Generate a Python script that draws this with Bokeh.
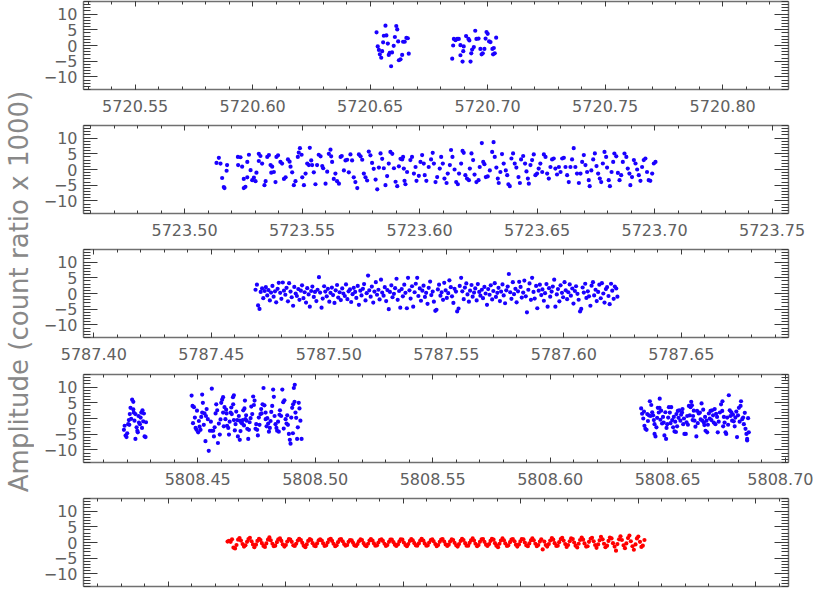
from bokeh.plotting import figure
from bokeh.layouts import column, row
from bokeh.models import (Range1d, LinearAxis, SingleIntervalTicker, PrintfTickFormatter,
                          CustomJSTickFormatter, ColumnDataSource)
from bokeh.embed import file_html
from bokeh.resources import INLINE

# ---------------- data (times = T0 + DT * 1e-4 days, amplitudes in count ratio x 1000) -------------
P1_T0 = 5720.0
P1_DT = [6527, 6565, 6611, 6615, 6558, 6569, 6605, 6654, 6660, 6619, 6640, 6647, 6555, 6575,
         6532, 6600, 6537, 6551, 6541, 6583, 6593, 6579, 6547, 6636, 6629, 6622, 6664, 6589,
         6856, 6863, 6870, 6877, 6853, 6849, 6884, 6898, 6884, 6896, 6893, 6908, 6918, 6922,
         6927, 6930, 6934, 6941, 6947, 6952, 6961, 6969, 6974, 6979, 6986, 6995, 7000, 6991,
         7006, 7012, 7020, 7026, 7036, 7023, 7030]
P1_AMP = [4.2, 6.3, 6.2, 5.1, 3.1, 3.2, 2.7, 2.4, 2.3, 1.3, 1.2, 1.2, 1.0, 0.6,
          -0.3, -0.1, -1.4, -1.8, -2.8, -2.3, -2.2, -3.0, -3.9, -3.0, -4.4, -4.7, -2.6, -6.6,
          2.1, 1.7, 2.1, 2.1, 0.0, -4.2, 0.1, -0.3, -3.1, -1.8, -5.1, 3.0, 2.1, 1.6,
          -5.1, -2.5, -1.3, -0.5, 4.7, 2.1, 2.2, -1.1, -2.8, -2.5, -1.1, 4.3, 3.7, 2.2,
          1.3, 1.1, -1.1, -0.8, 2.5, -2.8, -2.5]

P2_T0 = 5723.5
P2_DT = [136, 146, 153, 160, 167, 170, 179, 181, 227, 238, 228, 245, 252, 259, 252, 267, 274, 267, 281, 288,
         295, 302, 306, 316, 323, 316, 330, 340, 345, 352, 359, 366, 373, 369, 380, 391, 398, 387, 408, 415,
         423, 430, 440, 447, 451, 458, 465, 472, 482, 486, 491, 498, 501, 508, 515, 522, 529, 533, 539, 543,
         550, 557, 564, 571, 579, 586, 590, 600, 607, 614, 621, 624, 628, 635, 642, 649, 657, 664, 669, 678,
         685, 692, 699, 706, 713, 720, 727, 735, 742, 749, 756, 763, 770, 777, 784, 791, 798, 805, 813, 820,
         827, 834, 841, 848, 855, 862, 869, 876, 884, 891, 898, 905, 912, 919,
         926, 930, 936, 940, 933, 947, 961, 968, 976, 983, 987, 997, 1004, 1011, 1018, 1022, 1029, 1039, 1049, 1056,
         1061, 1068, 1075, 1086, 1092, 1099, 1106, 1115, 1120, 1129, 1134, 1140, 1149, 1156, 1163, 1168, 1177, 1183, 1188, 1195,
         1202, 1210, 1214, 1221, 1228, 1234, 1242, 1251, 1256, 1265, 1271, 1276, 1282, 1290, 1299, 1309, 1315, 1320, 1327, 1333,
         1337, 1344, 1351, 1358, 1367, 1373, 1378, 1384, 1391, 1398, 1405, 1412, 1421, 1427, 1432, 1441, 1449, 1455, 1461, 1465,
         1472, 1479, 1486, 1493, 1500, 1507, 1514, 1522, 1529, 1536, 1543, 1550, 1557, 1564, 1571, 1578, 1585, 1593, 1600, 1607,
         1614, 1621, 1628, 1635, 1642, 1649, 1656, 1663, 1670, 1678, 1685, 1692, 1699, 1706, 1713, 1720, 1724, 1731, 1739, 1746,
         1753, 1760, 1767, 1773, 1780, 1787, 1794, 1798, 1805, 1810, 1817, 1824, 1829, 1837, 1844, 1851, 1858, 1865, 1872, 1880,
         1886, 1893, 1897, 1904, 1912, 1919, 1926, 1933, 1940, 1947, 1954, 1961, 1968, 1975, 1982, 1990, 1997, 2004]
P2_AMP = [2.1, 3.7, 1.9, -2.7, -5.6, -5.9, -0.4, 1.4, 4.0, 3.9, 1.4, 0.9, -5.9, -5.5, -3.0, -2.5, 4.7, 2.4, -0.2, -3.4,
          -2.6, -3.7, -1.0, 5.0, 4.3, 2.7, 1.9, -5.0, -3.7, 4.0, 4.6, 1.4, 0.9, -1.0, -0.8, 4.0, 4.5, -4.0, 2.4, 1.9,
          -3.0, -2.5, 3.2, 2.5, 0.9, -0.9, -5.0, -3.7, 4.0, 5.4, 6.8, 4.7, -2.5, -5.0, -1.3, 1.9, 1.4, 6.9, 2.9, 1.4,
          -0.9, -4.7, 1.4, 4.7, 4.2, 1.1, 0.4, -4.5, -0.7, 5.0, 6.3, 4.2, 2.4, -3.0, -1.3, -3.7, -4.5, 4.0, 4.3, -0.3,
          2.9, 3.1, -0.9, 4.8, 2.9, -2.5, -4.0, -5.9, 4.8, 4.2, 3.1, -1.3, -2.5, -3.5, 5.7, 4.5, 2.1, 0.2, -3.2, -6.3,
          0.6, 5.1, 3.4, 0.4, -5.0, -2.1, 1.9, 5.6, 5.0, 0.4, -3.9, -5.3, 1.0, 3.4,
          3.2, 4.0, -3.6, -4.7, 0.3, -0.8, 3.0, 4.0, -1.3, 0.8, -3.6, -2.0, 2.4, 4.6, 1.9, -1.8, -3.6, 0.8, 3.2, 5.3,
          1.9, -4.0, -2.4, 0.3, 4.0, 1.9, -2.9, -4.3, -1.3, 1.4, 6.2, 4.0, 0.0, -4.0, -4.7, -1.3, 1.9, 5.9, 5.3, -1.8,
          -2.9, -3.4, 0.3, 5.1, 3.0, -1.6, -4.0, -3.4, 0.8, 8.4, 2.4, 1.7, -2.4, -2.2, -0.3, 5.6, 8.7, 4.0, 0.6, -2.9,
          -4.3, -0.8, 4.9, 1.9, -0.3, -1.8, -4.7, -5.3, 3.5, 5.1, 1.9, 0.6, -2.4, -4.3, 3.2, 4.3, 1.9, -0.6, -2.9, -4.5,
          1.4, 3.0, 4.8, -1.8, -1.3, 0.3, 1.9, -0.8, 4.8, 4.0, -1.3, -2.9, 0.8, 3.2, 3.5, 0.3, -1.6, 0.8, -0.8, 3.5,
          3.7, 0.8, -1.8, -4.0, 0.8, 3.2, 6.8, 0.8, -1.3, -4.3, -1.3, 2.4, 4.6, 1.4, -0.8, -3.4, -5.3, -0.3, 3.2, 5.1,
          1.1, -1.3, -2.9, -4.0, 1.9, 5.6, 4.0, 0.6, -3.4, -5.3, -0.8, 2.4, 5.1, 4.2, -1.1, -3.4, -1.8, 2.4, 5.1, 4.0,
          0.3, -1.3, -5.0, -2.4, 3.0, 1.9, 0.0, -1.8, -3.6, 0.8, 3.0, 3.5, -0.8, -3.4, -3.6, -1.3, 1.9, 2.4]

P3_T0 = 5787.4
P3_DT = [688, 694, 699, 705, 710, 716, 721, 727, 732, 738, 743, 749, 754, 760, 765, 771, 776, 782, 787, 793,
         798, 804, 809, 815, 820, 826, 831, 837, 842, 848, 853, 859, 864, 870, 875, 881, 886, 892, 897, 903,
         908, 914, 919, 925, 930, 936, 941, 947, 952, 958, 963, 969, 974, 980, 985, 991, 996, 1002, 1007, 1013,
         1018, 1024, 1029, 1035, 1040, 1046, 1051, 1057, 1062, 1068, 1073, 1079, 1084, 1090, 1095, 1101, 1106, 1112, 1117, 1123,
         1128, 1134, 1139, 1145, 1150, 1156, 1161, 1167, 1172, 1178, 1183, 1189, 1194, 1200, 1205, 1211, 1216, 1222, 1227, 1233,
         1238, 1244, 1249, 1255, 1260, 1266, 1271, 1277, 1282, 1288, 1293, 1299, 1304, 1310, 1315, 1321, 1326, 1332, 1337, 1343,
         1348, 1354, 1359, 1365, 1370, 1376, 1381, 1387, 1392, 1398, 1403, 1409, 1414, 1420, 1425, 1431, 1436, 1442, 1447, 1453,
         1458, 1464, 1469, 1475, 1480, 1486, 1491, 1497, 1502, 1508, 1513, 1519, 1524, 1530, 1535, 1541, 1546, 1552, 1557, 1563,
         1568, 1574, 1579, 1585, 1590, 1596, 1601, 1607, 1612, 1618, 1623, 1629, 1634, 1640, 1645, 1651, 1656, 1662, 1667, 1673,
         1678, 1684, 1689, 1695, 1700, 1706, 1711, 1717, 1722, 1728, 1733, 1739, 1744, 1750, 1755, 1761, 1766, 1772, 1777, 1783,
         1788, 1794, 1799, 1805, 1810, 1816, 1821, 1827, 1832, 1838, 1843, 1849, 1854, 1860, 1865, 1871, 1876, 1882, 1887, 1893,
         1898, 1904, 1909, 1915, 1920, 1926, 1931, 1937, 1942, 1948, 1953, 1959, 1964, 1970, 1975, 1981, 1986, 1992, 1997, 2003,
         2008, 2014, 2019, 2025, 2030, 2036, 2041, 2047, 2052, 2058, 2063, 2069, 2074, 2080, 2085, 2091, 2096, 2102, 2107, 2113,
         2118, 2124, 2129, 2135, 2140, 2146, 2151, 2157, 2162, 2168, 2173, 2179, 2184, 2190, 2195, 2201, 2206, 2212, 2217, 2223,
         2228]
P3_AMP = [1.2, 2.8, -3.8, -4.9, 0.5, 1.6, -1.5, 0.8, 2.0, -0.6, 1.1, -2.2, 0.3, 2.4, -1.0, 0.7, -2.8, 1.5, 3.4, 0.2,
          -1.7, 3.5, 0.9, -0.4, 1.8, -2.5, 3.3, 0.6, -1.2, -3.9, 2.1, 0.0, -0.8, 1.4, -2.0, 0.9, 2.6, -1.5, 0.4, -2.9,
          1.7, -0.3, -4.2, 0.8, 2.2, -1.1, 0.5, -2.4, 1.2, 5.2, 0.3, -4.5, -1.6, 2.3, 0.6, -0.9, 1.5, -2.6, 0.2, 1.9,
          -0.5, -3.0, 1.0, 2.7, -1.3, 0.4, -2.1, 1.6, 0.0, -0.8, 2.9, -1.8, 0.7, 1.3, -2.7, -0.2, 1.8, 0.5, -1.4, 2.4,
          -3.6, 0.9, -0.6, 1.5, 3.0, -2.2, 0.1, 5.7, 1.0, -1.0, 2.2, -2.9, 0.6, 3.6, -0.4, 1.2, -1.9, 4.4, 0.3, -0.7,
          2.0, -2.4, 1.1, -5.0, 0.5, 2.6, -1.2, -0.1, 1.7, 4.7, -2.0, 0.8, -4.5, 1.4, -0.9, 2.8, 0.2, -4.7, 5.0, 1.0,
          -1.6, 2.3, -4.2, 0.4, 3.1, 5.0, -0.8, 1.6, -2.3, 0.9, 2.5, -1.1, 0.2, -3.3, 1.8, 3.8, -0.5, 0.6, -2.6, -5.5,
          -5.2, 1.3, 2.8, -0.7, 0.4, -2.0, 3.4, 1.0, -1.4, 0.1, 4.2, 2.0, -0.9, -3.0, 1.5, 0.6, -5.7, -4.8, 2.4, 5.0,
          0.7, -1.8, 1.9, 3.2, -0.3, -2.6, 0.9, 2.7, -1.0, 0.3, 1.6, -2.2, 3.0, 0.5, -0.7, 1.2, -1.5, 2.1, 0.0, -3.6,
          1.4, -0.4, 2.6, -1.9, 0.8, 3.3, -1.1, 0.2, 1.8, -2.4, 0.6, 2.9, -0.6, -3.1, 1.0, 2.2, 6.2, 0.4, -1.7, 3.6,
          -0.2, 1.5, -2.8, 0.7, 3.7, 2.1, -1.3, 0.3, 4.1, -0.9, -6.0, 1.2, 3.2, -2.0, 5.0, 0.5, -1.6, 2.4, -4.7, 0.9,
          2.8, -0.5, 1.3, -2.3, 0.1, 3.0, -4.2, 1.7, -1.0, 0.6, 2.2, 4.4, -4.2, -0.3, 1.4, -2.5, 2.6, 0.2, -1.2, 3.6,
          1.0, -1.8, 0.4, 2.9, -0.7, 1.6, -3.2, 0.8, 2.3, -0.1, -2.0, -5.7, -4.9, 1.9, 0.3, 3.1, -1.4, 0.7, -0.9, -3.9,
          2.5, 3.6, -0.6, 1.2, -2.4, 0.5, 2.8, -1.5, 3.3, 0.0, -2.9, 1.4, 2.0, -0.8, -3.4, 3.1, 0.9, -1.7, 2.2, 1.6,
          -1.0]

P4_T0 = 5808.4
P4A_DT = [186, 189, 193, 197, 200, 204, 207, 209, 211, 214, 217, 221, 226, 226, 228, 231, 235, 235, 240, 243,
          245, 248, 250, 254, 257, 260, 263, 265, 268, 271, 274, 278, 280]
P4A_AMP = [-3.6, -2.3, -5.4, -5.9, -4.7, -1.8, -0.5, -2.0, 1.4, 3.4, -0.1, 6.0, 5.3, 2.9, 1.9, -0.7, 1.4, -6.5, -2.8, -3.9,
           -4.4, 0.8, -1.3, -1.8, 0.3, 1.9, -3.0, 2.6, -0.9, 1.6, -5.7, -5.9, -1.2]
P4B_DT = [474, 478, 484, 488, 491, 495, 502, 508, 512, 519, 522, 519, 529, 535, 533, 543, 547, 552, 560, 560,
          566, 569, 576, 583, 586, 590, 594, 600, 604, 608, 608, 614, 618, 623, 625, 630, 633, 640, 645, 650,
          654, 651, 654, 661, 668, 671, 679, 679, 685, 689, 694, 699, 701, 703, 708, 711, 715, 718, 725, 732,
          736, 739, 742, 746, 753, 756, 760, 767, 772, 776, 780, 784, 789, 789, 796, 800, 803, 807, 813, 817,
          821, 824, 827, 831, 835, 838, 845, 850, 855, 860, 864, 869, 874, 878, 884, 888, 892, 895, 898, 902,
          906, 909, 913, 912, 916, 905, 923, 930, 937, 942,
          480, 497, 505, 515, 526, 538, 556, 572, 579, 597, 611, 621, 636, 643, 658, 664, 675, 682, 692, 697,
          706, 721, 728, 749, 763, 770, 793, 810, 842, 848, 866, 881, 919, 926, 933]
P4B_AMP = [7.3, 4.0, 3.6, 0.3, -3.0, -3.6, -4.4, -2.6, -3.6, 7.6, 5.0, 1.9, 1.6, 0.8, -7.2, -0.2, -10.3, -3.9, -3.9, 9.5,
           -3.9, -5.7, 1.6, 2.6, -7.8, -1.6, -5.1, 5.0, 6.0, 6.8, 1.9, 3.6, -0.2, 1.6, -2.3, -3.0, -5.1, 1.9, 1.4, 6.8,
           7.4, 4.5, -0.5, -1.8, -0.5, -5.7, -6.8, -0.7, -1.3, -1.6, 2.6, 3.2, 5.7, -0.2, -0.7, -3.3, -6.5, -3.6, 0.1, 1.4,
           7.0, 4.3, 5.7, -3.3, -3.6, -5.4, 0.3, 1.4, 1.6, 4.5, 9.7, 4.2, 1.9, -0.2, 0.1, -1.6, -4.2, -3.0, 2.1, 4.0,
           9.2, 6.9, 0.8, -1.8, -3.0, -3.9, -4.2, 2.6, 0.8, 9.2, 5.2, 5.8, -0.2, -1.6, -2.0, -4.9, -6.8, -8.0, 0.3, 3.4,
           4.5, 9.7, 10.7, 5.3, 1.9, -4.7, -6.5, 5.0, -0.7, -6.5,
           -1.5, 2.5, -0.8, 0.5, -2.0, 3.0, -1.0, -2.8, 4.5, -0.3, -2.5, 2.8, -1.0, 3.5, -3.8, 2.2, 0.8, -4.0, -0.5, -2.2,
           1.0, -1.2, 3.8, -1.8, -2.0, 3.0, -2.5, -0.8, -1.0, 1.2, -3.2, 1.0, 0.2, -2.8, 3.2]
P4C_DT = [2387, 2396, 2401, 2405, 2410, 2413, 2420, 2424, 2430, 2427, 2438, 2444, 2444, 2448, 2452, 2458, 2465, 2466, 2462, 2476,
          2483, 2486, 2493, 2498, 2502, 2505, 2515, 2509, 2519, 2523, 2529, 2535, 2537, 2543, 2549, 2554, 2561, 2566, 2571, 2577,
          2583, 2586, 2590, 2597, 2603, 2600, 2608, 2614, 2618, 2622, 2625, 2632, 2637, 2644, 2647, 2654, 2656, 2661, 2668, 2665,
          2675, 2682, 2689, 2696, 2703, 2710, 2713, 2722, 2727, 2733, 2732, 2739, 2742, 2746, 2749, 2753, 2760, 2764, 2767, 2774,
          2781, 2788, 2795, 2803, 2810, 2812, 2817, 2824, 2831, 2835, 2838, 2838, 2842, 2845, 2821,
          2391, 2399, 2416, 2434, 2441, 2455, 2469, 2472, 2480, 2490, 2495, 2512, 2526, 2532, 2540, 2546, 2557, 2563, 2569, 2580,
          2594, 2606, 2611, 2628, 2640, 2651, 2659, 2671, 2679, 2686, 2693, 2700, 2706, 2717, 2736, 2757, 2771, 2778, 2785, 2792,
          2799, 2806, 2828]
P4C_AMP = [3.2, 0.0, -2.3, -3.3, -3.6, 1.4, 1.0, 5.5, 4.3, 0.8, 1.0, -1.8, -4.9, -5.7, -2.8, 3.4, 3.4, 6.3, 1.9, -1.6,
           -1.3, -5.4, -6.5, -1.8, 0.3, 3.6, 3.6, 1.9, -0.5, -2.8, -4.1, -4.3, 1.4, 2.4, 2.6, -0.7, 1.9, -1.8, -4.9, -4.9,
           0.8, -2.0, 4.0, 3.6, 4.2, 5.3, 0.8, -0.7, -2.6, -5.7, 2.4, 1.6, 1.9, 4.8, -0.7, -1.3, -2.1, -3.9, -4.4, -0.7,
           1.6, 2.4, 2.6, -1.3, -1.8, 0.5, -4.4, 1.9, 4.5, 5.5, 2.4, 0.5, -1.3, -4.4, -4.9, 0.3, 7.4, 2.6, 0.8, -0.7,
           -0.9, 0.3, -5.9, 3.4, 4.0, 5.5, -0.2, -1.8, -3.3, -4.9, -6.5, -7.0, 0.1, -4.4, 0.3,
           1.5, 2.2, -0.8, 2.0, -0.5, 0.2, -0.4, 2.5, 0.5, 2.0, -3.0, -1.5, 0.5, -1.0, -2.5, 0.2, 1.2, 3.0, 0.0, -1.2,
           1.0, -0.5, 2.5, -1.5, -0.3, 2.8, 0.5, -2.0, 0.0, -0.5, 1.0, 3.0, 1.5, -1.0, -2.5, -2.0, 2.0, 1.2, -2.5, 2.2,
           1.0, -1.0, 1.8]

P5_T0 = 0.0
P5_DT = [752, 758, 765, 771, 777, 784, 790, 797, 803, 809, 816, 822, 828, 835,
         841, 847, 854, 860, 866, 873, 879, 886, 892, 898, 905, 911, 917, 924,
         930, 936, 943, 949, 955, 962, 968, 975, 981, 987, 994, 1000, 1006, 1013,
         1019, 1025, 1032, 1038, 1044, 1051, 1057, 1064, 1070, 1076, 1083, 1089, 1095, 1102,
         1108, 1114, 1121, 1127, 1133, 1140, 1146, 1153, 1159, 1165, 1172, 1178, 1184, 1191,
         1197, 1203, 1210, 1216, 1222, 1229, 1235, 1242, 1248, 1254, 1261, 1267, 1273, 1280,
         1286, 1292, 1299, 1305, 1311, 1318, 1324, 1331, 1337, 1343, 1350, 1356, 1362, 1369,
         1375, 1381, 1388, 1394, 1400, 1407, 1413, 1420, 1426, 1432, 1439, 1445, 1451, 1458,
         1464, 1470, 1477, 1483, 1489, 1496, 1502, 1509, 1515, 1521, 1528, 1534, 1540, 1547,
         1553, 1559, 1566, 1572, 1578, 1585, 1591, 1598, 1604, 1610, 1617, 1623, 1629, 1636,
         1642, 1648, 1655, 1661, 1667, 1674, 1680, 1687, 1693, 1699, 1706, 1712, 1718, 1725,
         1731, 1737, 1744, 1750, 1756, 1763, 1769, 1776, 1782, 1788, 1795, 1801, 1807, 1814,
         1820, 1826, 1833, 1839, 1845, 1852, 1858, 1865, 1871, 1877, 1884, 1890, 1896, 1903,
         1909, 1915, 1922, 1928, 1934, 1941, 1947, 1954, 1960, 1966, 1973, 1979, 1985, 1992,
         1998, 2004, 2011, 2017, 2023, 2030, 2036, 2043, 2049, 2055, 2062, 2068, 2074, 2081,
         2087, 2093, 2100, 2106, 2112, 2119, 2125, 2132, 2138, 2144, 2151, 2157, 2163, 2170,
         2176, 2182, 2189, 2195, 2201, 2208, 2214, 2221, 2227, 2233, 2240, 2246, 2252, 2259,
         2265, 2271, 2278, 2284, 2290, 2297, 2303, 2310, 2316, 2322, 2329, 2335, 2341, 2348,
         2354, 2360, 2367, 2373, 2379, 2386, 2392, 2399, 2405, 2411, 2418, 2424, 2430, 2437,
         2443, 2449, 2456, 2462, 2468, 2475, 2481, 2488, 2494, 2500, 2507, 2513, 2519, 2526]
P5_AMP = [0.3, 0.5, 0.2, 1.0, -1.6, -1.9, -0.8, 0.9, 1.4, 0.6, -0.5, -1.3, -0.9, 0.2,
          1.1, 1.5, 0.4, -0.6, -1.5, -0.7, 0.5, 1.2, 0.8, -0.2, -1.1, -1.4, -0.3, 0.9,
          1.6, 0.7, -0.4, -1.2, -1.0, 0.1, 1.0, 1.3, 0.5, -0.6, -1.3, -0.8, 0.3, 1.1,
          0.9, 0.2, -0.9, -1.1, -0.4, 0.6, 1.2, 0.8, -0.1, -1.0, -1.5, -0.6, 0.5, 1.1,
          0.8, -0.2, -1.0, -1.2, -0.3, 0.7, 1.0, 0.6, -0.3, -1.1, -0.9, 0.0, 0.9, 1.2,
          0.5, -0.4, -1.2, -0.9, 0.1, 0.9, 1.1, 0.4, -0.5, -1.0, -0.8, 0.2, 0.8, 0.7,
          -0.1, -0.9, -1.1, -0.5, 0.4, 1.0, 0.8, -0.2, -0.9, -1.2, -0.4, 0.6, 1.1, 0.6,
          -0.3, -1.0, -0.9, 0.0, 0.8, 1.0, 0.5, -0.4, -1.1, -0.8, 0.2, 0.9, 0.9, 0.1,
          -0.7, -1.1, -0.6, 0.3, 1.0, 0.9, 0.0, -0.8, -1.2, -0.5, 0.5, 1.1, 0.7, -0.2,
          -0.9, -1.0, -0.3, 0.6, 1.2, 0.6, -0.3, -1.0, -0.9, 0.0, 0.8, 1.0, 0.4, -0.5,
          -1.2, -0.8, 0.2, 0.9, 1.1, 0.3, -0.6, -1.1, -0.7, 0.3, 1.0, 0.8, -0.1, -0.9,
          -1.3, -0.5, 0.5, 1.2, 0.8, -0.2, -1.0, -1.0, -0.1, 0.7, 1.3, 0.6, -0.4, -1.2,
          -0.8, 0.2, 1.0, 1.1, 0.2, -0.7, -1.1, -0.5, 0.5, 1.2, 0.9, -0.2, -1.0, -1.5,
          -0.4, 0.6, 1.3, 0.7, -0.3, -1.1, -0.9, 0.1, 0.9, 1.1, 0.4, -0.7, -1.3, -0.6,
          0.4, 1.1, 1.0, 0.0, -0.9, -1.2, -0.3, 0.7, 1.3, 0.7, -0.4, -1.2, -0.8, 0.3,
          1.0, -2.2, 0.3, -0.8, -1.3, -0.5, 0.6, 1.4, 0.9, -0.2, -1.1, -1.0, 0.1, 1.1,
          1.5, 0.6, -0.5, -1.4, -0.8, 0.4, 1.3, 1.1, 0.0, -1.0, -1.6, -0.4, 0.8, 1.6,
          0.9, -0.3, -1.3, -1.2, 0.2, 1.2, 1.5, 0.4, -0.8, -1.7, -0.6, 0.7, 1.8, 1.0,
          -0.4, -1.5, -1.0, 0.5, 1.6, 1.3, -0.2, -1.3, -2.6, -0.5, 1.0, 2.0, 0.8, -0.9,
          -1.8, -0.3, 1.4, 2.2, 0.4, -1.2, -2.3, -0.6, 1.3, 1.9, 0.2, -1.4, -1.0, 0.8]

Y_TITLE = "Amplitude (count ratio x 1000)"

# ---------------- styling ----------------
BLUE = "#1a00ff"
RED = "#ff0000"
TEXT = "#606060"
FONT = "DejaVu Sans"
FRAME_W, FRAME_H = 705, 88
TITLE_W = 34          # width of the strip that carries the shared y title
LEFT = 83 - TITLE_W   # so that every panel frame starts at x = 83
SPAN = 0.3

def style_axis(ax, tin, mtin):
    ax.axis_line_color = "#707070"
    ax.axis_line_width = 1.5
    ax.major_tick_line_color = "#3a3a3a"
    ax.minor_tick_line_color = "#3a3a3a"
    ax.major_tick_line_width = 1
    ax.minor_tick_line_width = 1
    ax.major_tick_in = tin
    ax.major_tick_out = 0
    ax.minor_tick_in = mtin
    ax.minor_tick_out = 0
    ax.major_label_text_font = FONT
    ax.major_label_text_font_size = "16px"
    ax.major_label_text_color = TEXT

def hide_labels(ax):
    ax.formatter = CustomJSTickFormatter(code="return '';")
    ax.major_label_text_font_size = "0px"
    ax.major_label_standoff = 0

def make_panel(x0, t0, dts, amps, color, top, bottom, show_x_labels=True):
    p = figure(frame_width=FRAME_W, frame_height=FRAME_H,
               x_range=Range1d(x0, x0 + SPAN), y_range=Range1d(-14, 14),
               min_border_left=LEFT, min_border_right=25, min_border_top=top, min_border_bottom=bottom,
               x_axis_location=None, y_axis_location=None,
               toolbar_location=None, output_backend="svg",
               background_fill_color="white", border_fill_color="white")
    p.outline_line_color = None
    p.grid.grid_line_color = None
    for loc in ("below", "above"):
        ax = LinearAxis(ticker=SingleIntervalTicker(interval=0.05, num_minor_ticks=5),
                        formatter=PrintfTickFormatter(format="%.2f"))
        style_axis(ax, 5, 3)
        if loc == "above" or not show_x_labels:
            hide_labels(ax)
        else:
            ax.major_label_standoff = 10
        p.add_layout(ax, loc)
    for loc in ("left", "right"):
        ax = LinearAxis(ticker=SingleIntervalTicker(interval=5, num_minor_ticks=5))
        style_axis(ax, 14, 7)
        if loc == "right":
            hide_labels(ax)
        else:
            ax.formatter = CustomJSTickFormatter(
                code="return tick < 0 ? '\u2212' + Math.abs(tick).toFixed(0) : tick.toFixed(0);")
            ax.major_label_standoff = 6
        p.add_layout(ax, loc)
    src = ColumnDataSource(data=dict(x=[t0 + d * 1e-4 for d in dts], y=amps))
    p.scatter("x", "y", source=src, size=4.2, fill_color=color, line_color=None)
    return p

P1_X0, P2_X0, P3_X0, P4_X0, P5_X0 = 5720.528, 5723.457, 5787.3956, 5808.4014, 0.0139

f1 = make_panel(P1_X0, P1_T0, P1_DT, P1_AMP, BLUE, 1, 35)
f2 = make_panel(P2_X0, P2_T0, P2_DT, P2_AMP, BLUE, 1, 35)
f3 = make_panel(P3_X0, P3_T0, P3_DT, P3_AMP, BLUE, 1, 35)
f4 = make_panel(P4_X0, P4_T0, P4A_DT + P4B_DT + P4C_DT, P4A_AMP + P4B_AMP + P4C_AMP, BLUE, 2, 34)
f5 = make_panel(P5_X0, P5_T0, P5_DT, P5_AMP, RED, 2, 3, show_x_labels=False)

# narrow full-height strip that carries the shared y-axis title
tf = figure(width=TITLE_W, height=592, x_range=Range1d(0, 1), y_range=Range1d(0, 1),
            x_axis_location=None, y_axis_location=None, toolbar_location=None, output_backend="svg",
            min_border_left=0, min_border_right=0, min_border_top=0, min_border_bottom=10,
            background_fill_color="white", border_fill_color="white")
tf.outline_line_color = None
tf.grid.grid_line_color = None
tax = LinearAxis(axis_label=Y_TITLE)
tax.formatter = CustomJSTickFormatter(code="return '';")
tax.major_label_text_font_size = "0px"
tax.major_label_standoff = 0
tax.major_tick_in = 0
tax.major_tick_out = 0
tax.minor_tick_in = 0
tax.minor_tick_out = 0
tax.axis_line_color = None
tax.major_tick_line_color = None
tax.minor_tick_line_color = None
tax.axis_label_standoff = 0
tax.axis_label_text_font = FONT
tax.axis_label_text_font_size = "26px"
tax.axis_label_text_font_style = "normal"
tax.axis_label_text_color = "#888888"
tf.add_layout(tax, "left")

layout = row(tf, column(f1, f2, f3, f4, f5))
open("out.html", "w").write(file_html(layout, INLINE))
